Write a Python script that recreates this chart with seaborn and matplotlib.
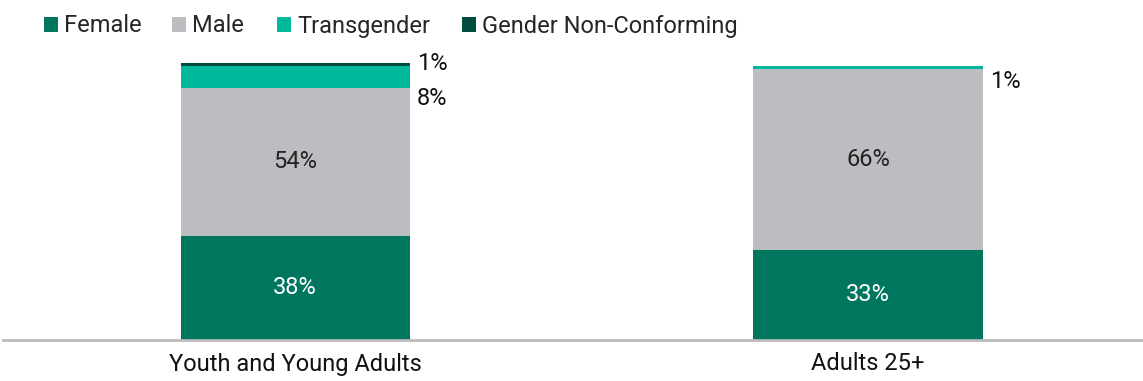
import matplotlib
matplotlib.use("Agg")
import matplotlib.pyplot as plt
from matplotlib.patches import Patch
import seaborn as sns
import numpy as np
import pandas as pd

groups = ["Youth and Young Adults", "Adults 25+"]
series = ["Female", "Male", "Transgender", "Gender Non-Conforming"]
female = [38, 33]
male = [54, 66]
transgender = [8, 1]
gnc = [1, 0]
colors = ["#00765F", "#BCBDC0", "#00B89C", "#004D40"]

sns.set_theme(style="white")
plt.rcParams["font.family"] = ["Roboto", "DejaVu Sans"]

FS = 17
W, H = 1143, 381

values = np.array([female, male, transgender, gnc], dtype=float)
tops = values.cumsum(axis=0)

fig = plt.figure(figsize=(W / 100, H / 100), dpi=100)
ax = fig.add_axes([3 / W, 41 / H, 1140 / W, 0.755])

# stacked bars: draw cumulative totals from tallest to shortest
for i in range(len(series) - 1, -1, -1):
    df = pd.DataFrame({"group": groups, "value": tops[i]})
    sns.barplot(data=df, x="group", y="value", color=colors[i], width=0.4,
                saturation=1, ax=ax, linewidth=0)

ax.set_xlim(-0.51, 1.48)
ax.set_ylim(0, 105)
ax.set_yticks([])
ax.set_xlabel("")
ax.set_ylabel("")
for s in ["top", "right", "left"]:
    ax.spines[s].set_visible(False)
ax.spines["bottom"].set_color("#BBBBBB")
ax.spines["bottom"].set_linewidth(2)
ax.tick_params(axis="x", length=0, pad=9, labelsize=FS, labelcolor="#111111")

# labels inside big segments
inside_color = ["white", "#222222"]
for j in range(len(groups)):
    for i in range(2):
        mid = tops[i, j] - values[i, j] / 2
        ax.text(j, mid, f"{int(values[i, j])}%", ha="center", va="center",
                fontsize=FS, color=inside_color[i])

# labels for thin segments, outside right of the bar
outside = [(0, 3, 0.0), (0, 2, -11.7), (1, 2, -5.8)]
for j, i, dy in outside:
    ax.text(j + 0.213, tops[i, j] + dy, f"{int(values[i, j])}%", ha="left",
            va="center", fontsize=FS, color="#111111")

# legend entries placed one by one along the top
legend_x = [44, 172, 277, 462]
for name, c, x in zip(series, colors, legend_x):
    fig.legend([Patch(facecolor=c, edgecolor="none")], [name],
               loc="center left", bbox_to_anchor=(x / W, 1 - 26 / H),
               frameon=False, fontsize=FS, handlelength=0.58,
               handleheight=0.6, handletextpad=0.28, borderpad=0,
               borderaxespad=0)

fig.savefig("out.png", dpi=100)
